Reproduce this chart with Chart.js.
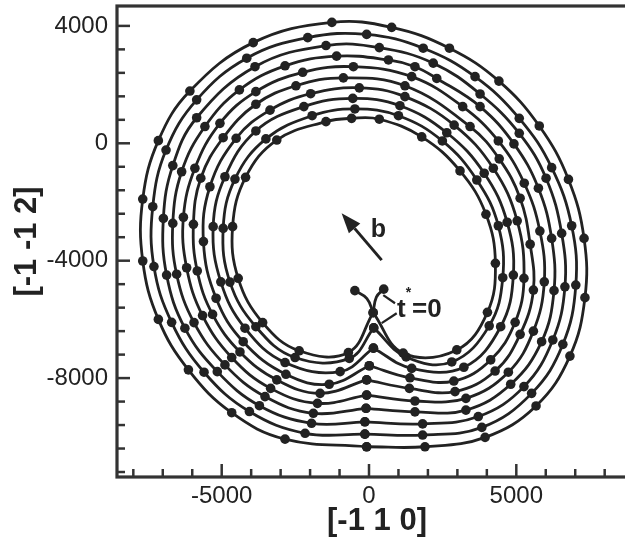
<!DOCTYPE html>
<html>
<head>
<meta charset="utf-8">
<script src="https://cdn.jsdelivr.net/npm/chart.js@4.4.1/dist/chart.umd.min.js"></script>
<style>
  html, body { margin: 0; padding: 0; background: #fff; overflow: hidden; }
  #wrap { width: 660px; height: 540px; }
</style>
</head>
<body>
<div id="wrap"><canvas id="loops" width="660" height="540"></canvas></div>
<script>
// axis ticks (units of b)
var xTicks = [-8000, -7000, -6000, -5000, -4000, -3000, -2000, -1000, 0, 1000, 2000, 3000, 4000, 5000, 6000, 7000, 8000, 9000];
var xLabelTicks = [-5000, 0, 5000];
var yTicks = [-11200, -10400, -9600, -8800, -8000, -7200, -6400, -5600, -4800, -4000, -3200, -2400, -1600, -800, 0, 800, 1600, 2400, 3200, 4000];
var yLabelTicks = [-8000, -4000, 0, 4000];

// t*=0 : pinned arms running into the cusp, then the first loop
var pinArmLeft  = [[-480, -5020], [-70, -5290], [140, -5770]];
var pinArmRight = [[500, -4970], [250, -5240], [140, -5770]];
var loop1 = [[140,-5770],[-700,-7130],[-2370,-7070],[-3610,-6110],[-4440,-4600],[-4630,-2840],[-4190,-1160],[-3130,110],[-1460,740],[-590,850],[350,820],[1790,220],[3090,-940],[3970,-2420],[4290,-4090],[4020,-5760],[2980,-7040],[1160,-7150],[140,-5770]];
var loop2 = [[160,-6290],[-670,-7330],[-2510,-7300],[-3840,-6250],[-4720,-4730],[-4950,-2900],[-4550,-1220],[-3500,150],[-1930,940],[-480,1170],[1000,940],[2490,80],[3660,-1250],[4390,-2810],[4540,-4580],[4080,-6220],[2810,-7450],[1260,-7280],[160,-6290]];
var loop3 = [[150,-6980],[-980,-7780],[-2850,-7470],[-4210,-6300],[-5030,-4720],[-5290,-2840],[-4890,-1140],[-3840,420],[-2210,1250],[-550,1530],[1050,1280],[2640,360],[3910,-1020],[4690,-2690],[4900,-4490],[4470,-6250],[3220,-7630],[1450,-7670],[150,-6980]];
var loop4 = [[10,-7580],[-1350,-8210],[-2820,-7870],[-4270,-6760],[-5190,-5280],[-5620,-3350],[-5400,-1480],[-4510,170],[-3360,1130],[-1980,1690],[-330,1890],[1220,1590],[2890,620],[4220,-850],[5030,-2640],[5260,-4600],[4960,-6100],[4130,-7380],[2880,-8100],[1390,-7990],[10,-7580]];
var loop5 = [[-80,-8060],[-1660,-8520],[-3130,-8060],[-4380,-7110],[-5310,-5830],[-5830,-4350],[-5960,-2760],[-5710,-1190],[-4950,190],[-3840,1330],[-2480,1960],[-870,2230],[1220,1960],[3430,570],[4420,-530],[5130,-1870],[5470,-3440],[5580,-5000],[5130,-6510],[4280,-7760],[2920,-8460],[1370,-8350],[-80,-8060]];
var loop6 = [[-80,-8580],[-1750,-8860],[-3340,-8350],[-4660,-7300],[-5650,-5870],[-6190,-4240],[-6300,-2520],[-5910,-850],[-5060,680],[-3840,1760],[-2250,2420],[-530,2610],[1450,2270],[3180,1250],[4390,80],[5270,-1360],[5800,-2990],[5950,-4720],[5580,-6400],[4730,-7800],[3290,-8690],[1560,-8780],[-80,-8580]];
var loop7 = [[-100,-9030],[-1890,-9200],[-3530,-8630],[-4890,-7550],[-5940,-6110],[-6530,-4460],[-6660,-2730],[-6360,-970],[-5570,570],[-4400,1820],[-2850,2640],[-1100,2970],[660,2840],[1560,2610],[2300,2210],[3770,1250],[4920,-20],[5750,-1530],[6200,-3240],[6280,-5020],[5860,-6760],[4810,-8210],[3290,-9090],[1560,-9150],[-100,-9030]];
var loop8 = [[-140,-9490],[-1950,-9540],[-3720,-8940],[-5150,-7780],[-6250,-6300],[-6870,-4490],[-6980,-2560],[-6660,-760],[-5850,870],[-3870,2610],[-1460,3330],[350,3260],[2180,2730],[3770,1680],[5100,340],[6010,-1190],[6540,-3070],[6650,-4890],[6240,-6700],[5260,-8290],[3710,-9310],[1820,-9560],[-140,-9490]];
var loop9 = [[-140,-9910],[-2170,-9880],[-4060,-9140],[-5600,-7800],[-6700,-6100],[-7300,-4200],[-7340,-2160],[-6890,-230],[-5850,1480],[-4150,2900],[-2080,3600],[-80,3710],[1840,3240],[3600,2270],[5100,850],[6200,-830],[6880,-2810],[7020,-4830],[6580,-6850],[5520,-8520],[3830,-9680],[1820,-9940],[-140,-9910]];
var loop10 = [[-80,-10340],[-2850,-10080],[-4660,-9180],[-6130,-7720],[-7150,-6000],[-7680,-4010],[-7680,-1900],[-7150,90],[-6080,1780],[-3930,3430],[-1260,4120],[770,3950],[2730,3240],[4410,2120],[5780,590],[6770,-1230],[7300,-3240],[7330,-5260],[6820,-7250],[5670,-8950],[3940,-10020],[1900,-10340],[-80,-10340]];

// annotations, in axis units
var arrowB = [[430, -3980], [-930, -2380]];
var labelB = [316, -3200];
var labelT0 = [950, -5930];
var leadersT0 = [[[485, -5170], [883, -5450]], [[940, -5790], [431, -6130]]];

var ink = '#222';

function toXY(pts) {
  return pts.map(function (p) { return { x: p[0], y: p[1] }; });
}

function loopSet(pts) {
  return {
    data: toXY(pts),
    showLine: true,
    tension: 0.4,
    borderColor: ink,
    borderWidth: 2.8,
    pointRadius: 4.8,
    pointHoverRadius: 4.8,
    pointBackgroundColor: ink,
    pointBorderWidth: 0
  };
}

function armSet(pts) {
  var d = loopSet(pts);
  // only the pinned end carries a node marker
  d.pointRadius = function (c) { return c.dataIndex === 0 ? 4.8 : 0; };
  return d;
}

var datasets = [armSet(pinArmLeft), armSet(pinArmRight)];
[loop1, loop2, loop3, loop4, loop5, loop6, loop7, loop8, loop9, loop10].forEach(function (l) {
  datasets.push(loopSet(l));
});

var framePlugin = {
  id: 'frame',
  afterDatasetsDraw: function (chart) {
    var ctx = chart.ctx, a = chart.chartArea;
    var xs = chart.scales.x, ys = chart.scales.y;
    ctx.save();
    ctx.strokeStyle = '#333';
    ctx.lineWidth = 3.2;
    ctx.strokeRect(a.left, a.top, a.right - a.left, a.bottom - a.top);

    // inward tick marks
    ctx.lineWidth = 2.5;
    xs.ticks.forEach(function (t) {
      var p = xs.getPixelForValue(t.value);
      var len = xLabelTicks.indexOf(t.value) >= 0 ? 13 : 8;
      ctx.beginPath();
      ctx.moveTo(p, a.bottom);
      ctx.lineTo(p, a.bottom - len);
      ctx.stroke();
    });
    ys.ticks.forEach(function (t) {
      var p = ys.getPixelForValue(t.value);
      var len = yLabelTicks.indexOf(t.value) >= 0 ? 13 : 8;
      ctx.beginPath();
      ctx.moveTo(a.left, p);
      ctx.lineTo(a.left + len, p);
      ctx.stroke();
    });

    function px(p) { return [xs.getPixelForValue(p[0]), ys.getPixelForValue(p[1])]; }

    // Burgers vector arrow
    ctx.strokeStyle = ink;
    ctx.fillStyle = ink;
    var tail = px(arrowB[0]), tip = px(arrowB[1]);
    var ang = Math.atan2(tip[1] - tail[1], tip[0] - tail[0]);
    var headLen = 20, headW = 7.5;
    var bx = tip[0] - headLen * Math.cos(ang), by = tip[1] - headLen * Math.sin(ang);
    ctx.lineWidth = 3;
    ctx.beginPath();
    ctx.moveTo(tail[0], tail[1]);
    ctx.lineTo(bx, by);
    ctx.stroke();
    ctx.beginPath();
    ctx.moveTo(tip[0], tip[1]);
    ctx.lineTo(bx + headW * Math.sin(ang), by - headW * Math.cos(ang));
    ctx.lineTo(bx - headW * Math.sin(ang), by + headW * Math.cos(ang));
    ctx.closePath();
    ctx.fill();

    var bp = px(labelB);
    ctx.font = 'bold 25px "Liberation Sans", Arial, sans-serif';
    ctx.textAlign = 'center';
    ctx.textBaseline = 'alphabetic';
    ctx.fillText('b', bp[0], bp[1]);

    // t* = 0 label and its leaders
    ctx.lineWidth = 2.2;
    leadersT0.forEach(function (l) {
      var s = px(l[0]), e = px(l[1]);
      ctx.beginPath();
      ctx.moveTo(s[0], s[1]);
      ctx.lineTo(e[0], e[1]);
      ctx.stroke();
    });
    var tp = px(labelT0);
    ctx.textAlign = 'left';
    ctx.font = 'bold 26px "Liberation Sans", Arial, sans-serif';
    ctx.fillText('t', tp[0], tp[1]);
    var w = ctx.measureText('t').width;
    ctx.font = 'bold 14px "Liberation Sans", Arial, sans-serif';
    ctx.fillText('*', tp[0] + w, tp[1] - 20);
    var w2 = ctx.measureText('*').width;
    ctx.font = 'bold 26px "Liberation Sans", Arial, sans-serif';
    ctx.fillText('=0', tp[0] + w + w2 + 1, tp[1]);
    ctx.restore();
  }
};

var tickFont = { family: '"Liberation Sans", Arial, sans-serif', size: 24 };
var titleFont = { family: '"Liberation Sans", Arial, sans-serif', size: 31, weight: 'bold', lineHeight: 1.2 };

new Chart(document.getElementById('loops'), {
  type: 'scatter',
  data: { datasets: datasets },
  options: {
    responsive: false,
    animation: false,
    events: [],
    layout: { padding: { top: 6, right: 23, left: 0, bottom: 0 } },
    plugins: { legend: { display: false }, tooltip: { enabled: false } },
    scales: {
      x: {
        type: 'linear',
        min: -8554,
        max: 9097,
        grid: { display: false, drawTicks: false },
        border: { display: false },
        afterBuildTicks: function (s) {
          s.ticks = xTicks.map(function (v) { return { value: v }; });
        },
        afterFit: function (s) {
          s.height = 63;
          s.paddingLeft = 0;
          s.paddingRight = 0;
        },
        ticks: {
          autoSkip: false,
          maxRotation: 0,
          padding: 5,
          color: ink,
          font: tickFont,
          callback: function (v) { return xLabelTicks.indexOf(v) >= 0 ? String(v) : ''; }
        },
        title: { display: true, text: '[-1 1 0]', color: ink, font: titleFont, padding: { top: 0, bottom: 0 } }
      },
      y: {
        type: 'linear',
        min: -11370,
        max: 4678,
        grid: { display: false, drawTicks: false },
        border: { display: false },
        afterBuildTicks: function (s) {
          s.ticks = yTicks.map(function (v) { return { value: v }; });
        },
        afterFit: function (s) {
          s.width = 117;
          s.paddingTop = 0;
          s.paddingBottom = 0;
        },
        ticks: {
          autoSkip: false,
          padding: 9,
          color: ink,
          font: tickFont,
          callback: function (v) { return yLabelTicks.indexOf(v) >= 0 ? String(v) : ''; }
        },
        title: { display: true, text: '[-1 -1 2]', color: ink, font: titleFont, padding: { top: 9, bottom: 0 } }
      }
    }
  },
  plugins: [framePlugin]
});
</script>
</body>
</html>
